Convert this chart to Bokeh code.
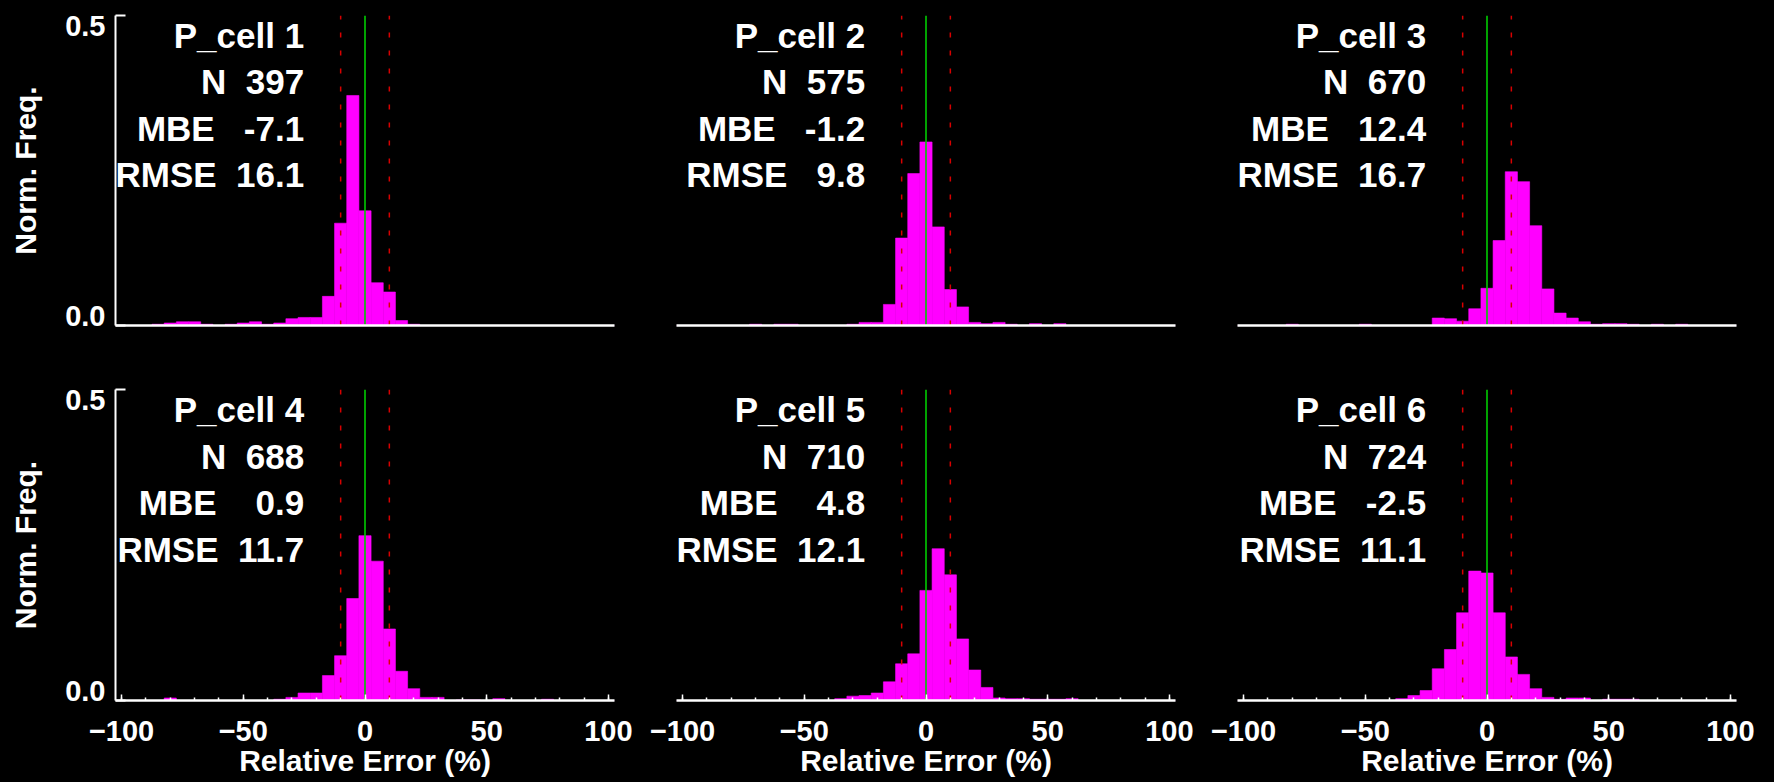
import numpy as np
from bokeh.plotting import figure
from bokeh.layouts import column, row
from bokeh.models import Range1d, FixedTicker, ColumnDataSource, LinearAxis
from bokeh.core.properties import value
from bokeh.embed import file_html
from bokeh.resources import INLINE

# ---------------- data ----------------
bin_centers = list(range(-100, 105, 5))  # 41 bins of width 5 (%)

freq_cell1 = [0, 0, 0, 0.002, 0.004, 0.006, 0.006, 0.002, 0, 0.002, 0.004, 0.006, 0.002, 0.004,
              0.011, 0.013, 0.013, 0.047, 0.165, 0.371, 0.185, 0.069, 0.054, 0.008, 0.002,
              0, 0, 0, 0, 0, 0, 0, 0, 0, 0, 0, 0, 0, 0, 0, 0]
freq_cell2 = [0, 0, 0, 0, 0, 0, 0.002, 0, 0.002, 0.002, 0, 0, 0, 0,
              0.002, 0.005, 0.005, 0.034, 0.141, 0.245, 0.296, 0.159, 0.058, 0.030, 0.005,
              0.003, 0.005, 0.002, 0, 0.003, 0, 0.003, 0, 0, 0, 0, 0, 0, 0, 0, 0]
freq_cell3 = [0, 0, 0, 0, 0.002, 0, 0, 0, 0, 0, 0.002, 0, 0, 0,
              0, 0, 0.012, 0.011, 0.007, 0.027, 0.060, 0.137, 0.248, 0.232, 0.161,
              0.059, 0.020, 0.012, 0.006, 0.002, 0.003, 0.003, 0.002, 0, 0.002, 0, 0.002, 0, 0, 0, 0]
freq_cell4 = [0, 0, 0, 0, 0.004, 0, 0, 0, 0, 0, 0, 0, 0, 0.002,
              0.005, 0.012, 0.012, 0.040, 0.072, 0.164, 0.265, 0.224, 0.115, 0.047, 0.019,
              0.005, 0.005, 0, 0.001, 0.001, 0, 0.003, 0, 0, 0, 0.002, 0, 0, 0, 0, 0]
freq_cell5 = [0, 0, 0, 0, 0, 0, 0, 0, 0, 0, 0, 0, 0, 0.003,
              0.007, 0.008, 0.012, 0.030, 0.059, 0.075, 0.177, 0.244, 0.202, 0.099, 0.049,
              0.021, 0.004, 0.003, 0.003, 0.002, 0.002, 0.002, 0.003, 0, 0, 0, 0, 0, 0, 0, 0]
freq_cell6 = [0, 0, 0, 0, 0, 0, 0, 0, 0, 0, 0, 0, 0, 0.003,
              0.008, 0.016, 0.051, 0.082, 0.141, 0.208, 0.205, 0.141, 0.070, 0.042, 0.019,
              0.005, 0.002, 0.004, 0.004, 0, 0.002, 0.002, 0.002, 0, 0, 0, 0, 0, 0, 0, 0]

cell_names = ["P_cell 1", "P_cell 2", "P_cell 3", "P_cell 4", "P_cell 5", "P_cell 6"]
n_obs = [397, 575, 670, 688, 710, 724]
mbe = [-7.1, -1.2, 12.4, 0.9, 4.8, -2.5]
rmse = [16.1, 9.8, 16.7, 11.7, 12.1, 11.1]

ref_band = [-10, 10]      # dashed red reference lines (%)
zero_ref = [0]            # green zero line (%)
x_major = [-100, -50, 0, 50, 100]
x_minor = list(range(-100, 101, 10))
y_ticks = [0.0, 0.5]
y_tick_labels = {0.0: "0.0", 0.5: "0.5"}

freqs = [freq_cell1, freq_cell2, freq_cell3, freq_cell4, freq_cell5, freq_cell6]

# ---------------- layout / style ----------------
FONT = "Liberation Sans"
X_LO, X_HI = -102.5, 102.5
Y_LO, Y_HI = 0.0, 0.5
FRAME_W = 499
COL_BORDERS = [(115, 28), (34, 28), (34, 20)]
ROW_CFG = [dict(top=15, frame=310, bottom=10), dict(top=54, frame=311, bottom=82)]
TEXT_X = -25
TEXT_Y = [0.468, 0.393, 0.318, 0.243]   # vertical centres of the four stat lines
YLAB_INSET_PX = 10   # y tick labels sit inside the 0..0.5 span, as in the original
NB = "\u00a0"


def stat_lines(k):
    lines = [cell_names[k],
             "N" + f"{n_obs[k]:5d}",
             "MBE " + f"{mbe[k]:6.1f}",
             "RMSE" + f"{rmse[k]:6.1f}"]
    return [s.replace(" ", NB) for s in lines]


def make_panel(k):
    r, c = divmod(k, 3)
    lb, rb = COL_BORDERS[c]
    rc = ROW_CFG[r]
    p = figure(width=lb + FRAME_W + rb, height=rc["top"] + rc["frame"] + rc["bottom"],
               x_range=Range1d(X_LO, X_HI), y_range=Range1d(Y_LO, Y_HI),
               output_backend="svg", toolbar_location=None,
               y_axis_location="left" if c == 0 else None,
               min_border_left=lb, min_border_right=rb,
               min_border_top=rc["top"], min_border_bottom=rc["bottom"],
               background_fill_color="black", border_fill_color="black",
               outline_line_color=None)
    p.xgrid.visible = False
    p.ygrid.visible = False

    # histogram bars
    p.vbar(x=bin_centers, width=5, top=freqs[k], bottom=0,
           fill_color="#ff00ff", line_color="#ff00ff", line_width=0.6)

    # reference lines
    p.segment(x0=ref_band, y0=[Y_LO] * len(ref_band), x1=ref_band, y1=[Y_HI] * len(ref_band),
              line_color="#d80000", line_width=1.5, line_dash="5 13")
    p.segment(x0=zero_ref, y0=[Y_LO], x1=zero_ref, y1=[Y_HI],
              line_color="#00cc00", line_width=1.6)

    # stats text
    src = ColumnDataSource(dict(x=[TEXT_X] * 4, y=TEXT_Y, text=stat_lines(k)))
    p.text(x="x", y="y", text="text", source=src, text_align="right",
           text_baseline="middle", text_font=value(FONT), text_font_size="35px",
           text_font_style="bold", text_color="white")

    # x axis
    ax = p.xaxis[0]
    ax.axis_line_color = "white"
    ax.axis_line_width = 2.5
    if r == 1:
        ax.ticker = FixedTicker(ticks=x_major, minor_ticks=x_minor)
        ax.major_tick_in = 6
        ax.major_tick_out = 0
        ax.minor_tick_in = 3
        ax.minor_tick_out = 0
        ax.major_tick_line_color = "white"
        ax.minor_tick_line_color = "white"
        ax.major_tick_line_width = 1.5
        ax.minor_tick_line_width = 1.5
        ax.major_label_text_color = "white"
        ax.major_label_text_font = FONT
        ax.major_label_text_font_style = "bold"
        ax.major_label_text_font_size = "29px"
        ax.major_label_standoff = 20
        ax.axis_label = "Relative Error (%)"
        ax.axis_label_text_color = "white"
        ax.axis_label_text_font = FONT
        ax.axis_label_text_font_size = "30px"
        ax.axis_label_text_font_style = "bold"
        ax.axis_label_standoff = 0
    else:
        ax.ticker = FixedTicker(ticks=[], minor_ticks=[])
        ax.major_tick_line_color = None
        ax.minor_tick_line_color = None

    # y axis (left column only): line + inward tick, labels on a companion axis
    if c == 0:
        ay = p.yaxis[0]
        ay.ticker = FixedTicker(ticks=y_ticks, minor_ticks=[])
        ay.axis_line_color = "white"
        ay.axis_line_width = 2
        ay.major_tick_in = 10
        ay.major_tick_out = 0
        ay.major_tick_line_color = "white"
        ay.major_tick_line_width = 2
        ay.minor_tick_line_color = None
        ay.major_label_text_color = None
        ay.major_label_standoff = 0

        frame_h = rc["frame"]
        d = YLAB_INSET_PX * (Y_HI - Y_LO) / (frame_h - 2 * YLAB_INSET_PX)
        p.extra_y_ranges = {"ylab": Range1d(Y_LO - d, Y_HI + d)}
        lab_axis = LinearAxis(y_range_name="ylab",
                              ticker=FixedTicker(ticks=y_ticks, minor_ticks=[]),
                              major_label_overrides=y_tick_labels,
                              axis_line_color=None, major_tick_line_color=None,
                              minor_tick_line_color=None,
                              major_tick_in=0, major_tick_out=0,
                              major_label_standoff=10,
                              major_label_text_color="white",
                              major_label_text_font=FONT,
                              major_label_text_font_style="bold",
                              major_label_text_font_size="29px",
                              axis_label="Norm. Freq.",
                              axis_label_text_color="white",
                              axis_label_text_font=FONT,
                              axis_label_text_font_size="30px",
                              axis_label_text_font_style="bold",
                              axis_label_standoff=20)
        p.add_layout(lab_axis, "left")
    return p


panels = [make_panel(k) for k in range(6)]
layout = column(row(*panels[:3]), row(*panels[3:]), background="black")

html = file_html(layout, INLINE, title="Relative error histograms")
html = html.replace("</head>", "<style>html, body { background: #000000; }</style></head>", 1)
with open("out.html", "w") as f:
    f.write(html)
